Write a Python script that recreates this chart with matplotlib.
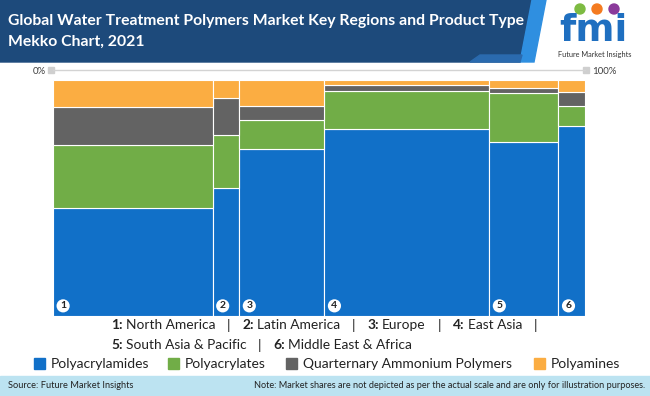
import matplotlib.pyplot as plt
from matplotlib.patches import Polygon, Rectangle, Circle

# region widths (% of total) and product shares (% within region)
regions = ["North America", "Latin America", "Europe", "East Asia",
           "South Asia & Pacific", "Middle East & Africa"]
widths = [30, 5, 16, 31, 13, 5]
products = ["Polyacrylamides", "Polyacrylates", "Quarternary Ammonium Polymers", "Polyamines"]
polyacrylamides = [45.9, 54.1, 70.8, 79.4, 73.6, 80.5]
polyacrylates = [26.7, 22.6, 12.3, 15.8, 20.8, 8.5]
quaternary = [16.1, 15.6, 5.9, 2.7, 2.2, 6.1]
polyamines = [11.3, 7.7, 11.0, 2.1, 3.4, 4.9]
colors = ["#1170C8", "#71AD47", "#636363", "#FBAD42"]

W, H = 650, 396
fig = plt.figure(figsize=(6.5, 3.96), dpi=100)
plt.rcParams['font.family'] = ['Lato', 'DejaVu Sans']

def px(x, y):
    # pixel coords (top-left origin) -> figure fraction
    return x / W, 1 - y / H

# header band
bg = fig.add_axes([0, 0, 1, 1], zorder=-1)
bg.set_xlim(0, W)
bg.set_ylim(H, 0)
bg.axis("off")
bg.add_patch(Polygon([(0, 0), (532, 0), (520, 62), (0, 62)], color="#1D4A7B"))
bg.add_patch(Polygon([(532, 0), (546, 0), (534, 62), (520, 62)], color="#2F8FE0"))
bg.add_patch(Polygon([(470, 62), (520, 62), (522, 55), (480, 55)], color="#2A6AAE"))
bg.add_patch(Rectangle((0, 376), W, 20, color="#BCE3F1"))

# top scale line
bg.plot([53, 585], [70, 70], color="#D3D3D3", lw=1)
bg.add_patch(Rectangle((48, 67), 6, 6, color="#CFCFCF"))
bg.add_patch(Rectangle((583, 67), 6, 6, color="#CFCFCF"))
fig.text(*px(46, 71), "0%", ha="right", va="center", fontsize=7, color="#404040")
fig.text(*px(592, 71), "100%", ha="left", va="center", fontsize=7, color="#404040")

# title
fig.text(*px(8, 21), "Global Water Treatment Polymers Market Key Regions and Product Type",
         color="white", fontsize=11.3, fontweight="bold", va="center")
fig.text(*px(8, 42), "Mekko Chart, 2021", color="white", fontsize=11.3,
         fontweight="bold", va="center")

# logo
fig.text(*px(593, 31), "fmi", color="#1F6FC0", fontsize=27, fontweight="bold",
         ha="center", va="center", family="DejaVu Sans")
for cx, c in [(580, "#7DBB42"), (597, "#F47B20"), (614, "#8B3A9B")]:
    bg.add_patch(Circle((cx, 9), 5, color=c))
fig.text(*px(595, 54), "Future Market Insights", color="#333333", fontsize=5.3,
         ha="center", va="center")

# mekko chart
ax = fig.add_axes([53 / W, 1 - 316 / H, 532 / W, 236 / H])
lefts = [sum(widths[:i]) for i in range(len(widths))]
bottom = [0] * len(widths)
for vals, col in zip([polyacrylamides, polyacrylates, quaternary, polyamines], colors):
    ax.bar(lefts, vals, width=widths, bottom=bottom, align="edge", color=col,
           edgecolor="white", linewidth=0.8)
    bottom = [b + v for b, v in zip(bottom, vals)]
ax.set_xlim(0, 100)
ax.set_ylim(0, 100)
ax.axis("off")
for i, l in enumerate(lefts):
    ax.text(l + 1.9, 4.3, str(i + 1), ha="center", va="center", fontsize=7.5,
            fontweight="bold", color="#222222",
            bbox=dict(boxstyle="circle,pad=0.2", fc="white", ec="none"))

# region legend (mixed bold/regular text chained)
renderer = fig.canvas.get_renderer()

def chain(x, y, pieces, size=9.9):
    for txt, weight, gap in pieces:
        t = fig.text(*px(x, y), txt, fontsize=size, fontweight=weight,
                     color="#222222", va="center")
        x += t.get_window_extent(renderer).width + gap

def region_pieces(idx):
    out = []
    for k, i in enumerate(idx):
        out += [(f"{i + 1}:", "bold", 3), (regions[i], "normal", 12)]
        if k < len(idx) - 1 or len(idx) == 4:
            out.append(("|", "normal", 12))
    return out

chain(111, 325, region_pieces([0, 1, 2, 3]))
chain(111, 345, region_pieces([4, 5]))

# product legend
for xs, name, col in zip([34, 168, 286, 534], products, colors):
    bg.add_patch(Rectangle((xs, 358), 11, 11, color=col))
    fig.text(*px(xs + 17, 364), name, fontsize=10, color="#222222", va="center")

# footer
fig.text(*px(8, 386), "Source: Future Market Insights", fontsize=6.7,
         color="#222222", va="center")
fig.text(*px(645, 386), "Note: Market shares are not depicted as per the actual scale and are only for illustration purposes.",
         fontsize=6.6, color="#222222", va="center", ha="right")

fig.savefig("out.png", dpi=100)
